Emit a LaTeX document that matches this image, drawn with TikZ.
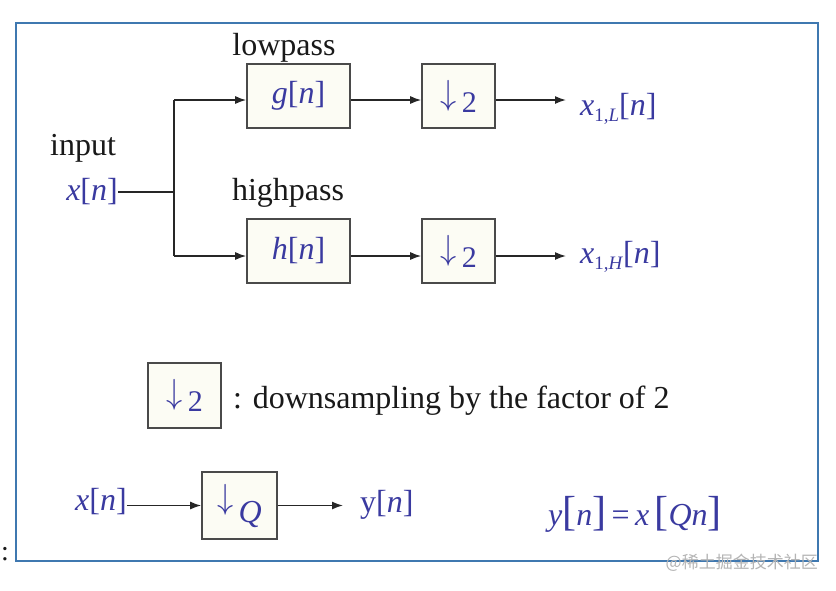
\documentclass[tikz,border=0pt]{standalone}
\usepackage{fontspec}
\usepackage{graphicx}
\setmainfont{Liberation Serif}
\newfontfamily\cjkfont{Noto Sans CJK SC}
\usetikzlibrary{arrows.meta}
\definecolor{frameblue}{HTML}{3F78B0}
\definecolor{sigblue}{HTML}{3A3AA0}
\definecolor{boxline}{HTML}{4A4A4A}
\definecolor{boxfill}{HTML}{FCFCF4}
\definecolor{wmgray}{HTML}{B4B4B4}
\newcommand{\eqbrk}[1]{{\fontsize{42}{42}\selectfont #1}}
\newcommand{\dnarr}{\raisebox{8pt}{\scalebox{1.3}[1.4]{$\downarrow$}}}
\newcommand{\smtwo}{{\fontsize{30}{30}\selectfont 2}}
\begin{document}
\begin{tikzpicture}[x=1pt,y=-1pt,
  blockbox/.style={draw=boxline, fill=boxfill, line width=1.6pt, minimum width=103pt, minimum height=64pt, inner sep=0pt, font=\fontsize{32}{32}\selectfont, text=sigblue},
  dsbox/.style={blockbox, minimum width=73pt},
  lbl/.style={inner sep=0pt, font=\fontsize{32}{32}\selectfont, text=black!90},
  sig/.style={inner sep=0pt, font=\fontsize{32}{32}\selectfont, text=sigblue},
  wire/.style={line width=1.5pt, draw=black!85},
  arr/.style={wire, -{Latex[length=11pt,width=8pt]}},
]
\useasboundingbox (0,0) rectangle (836,590);
\fill[white] (0,0) rectangle (836,590);
\draw[frameblue, line width=2.5pt] (16,23) rectangle (818,561);

% top filter bank
\node[blockbox] (g) at (298.5,96) {\textit{g}[\textit{n}]};
\node[dsbox] (d1) at (458.5,96) {\dnarr\,\smtwo};
\node[blockbox] (h) at (298.5,251) {\textit{h}[\textit{n}]};
\node[dsbox] (d2) at (458.5,251) {\dnarr\,\smtwo};

\node[lbl, anchor=base] (lp) at (284,55) {lowpass};
\node[lbl, anchor=base] (hp) at (288,200) {highpass};
\node[lbl, anchor=base] (inp) at (83,155) {input};
\node[sig, anchor=base east] (xin) at (118,200) {\textit{x}[\textit{n}]};

\coordinate (bt) at (174,100);
\coordinate (bb) at (174,256);
\coordinate (bm) at (174,192);
\coordinate (o1) at (566,100);
\coordinate (o2) at (566,256);

\draw[wire] (xin.east |- bm) -- (bm);
\draw[wire] (bt) -- (bb);
\draw[arr] (bt) -- (bt -| g.west);
\draw[arr] (g.east |- bt) -- (d1.west |- bt);
\draw[arr] (d1.east |- bt) -- (o1);
\draw[arr] (bb) -- (bb -| h.west);
\draw[arr] (h.east |- bb) -- (d2.west |- bb);
\draw[arr] (d2.east |- bb) -- (o2);

\node[sig, anchor=base west] (xl) at (580,115) {\textit{x}\raisebox{-6pt}{\fontsize{19}{19}\selectfont 1,\textit{L}}[\textit{n}]};
\node[sig, anchor=base west] (xh) at (580,263) {\textit{x}\raisebox{-6pt}{\fontsize{19}{19}\selectfont 1,\textit{H}}[\textit{n}]};

% legend
\node[dsbox, minimum height=65pt] (leg) at (184.5,395.5) {\dnarr\,\smtwo};
\node[lbl, anchor=base west] (legt) at (233,408) {: downsampling by the factor of 2};

% bottom row
\node[sig, anchor=base west] (xb) at (75,510) {\textit{x}[\textit{n}]};
\node[dsbox, minimum width=75pt, minimum height=67pt] (qb) at (239.5,505.5) {\dnarr\,\raisebox{-6pt}{\textit{Q}}};
\coordinate (yo) at (343,505.5);
\draw[arr] (xb.east |- qb) -- (qb.west);
\draw[arr] (qb.east) -- (yo);
\node[sig, anchor=base west] (yb) at (360,512) {y[\textit{n}]};
\node[sig, anchor=base west] (eq) at (548,525) {\textit{y}\eqbrk{[}\textit{n}\eqbrk{]}\,=\,\textit{x}\,\eqbrk{[}\textit{Qn}\eqbrk{]}};

% extras
\node[lbl, anchor=base west, font=\fontsize{28}{28}\selectfont] (colon) at (1,560) {:};
\node[text=wmgray, font=\cjkfont\fontsize{17}{17}\selectfont, anchor=east, inner sep=0pt] (wm) at (818,563) {@稀土掘金技术社区};
\end{tikzpicture}
\end{document}
